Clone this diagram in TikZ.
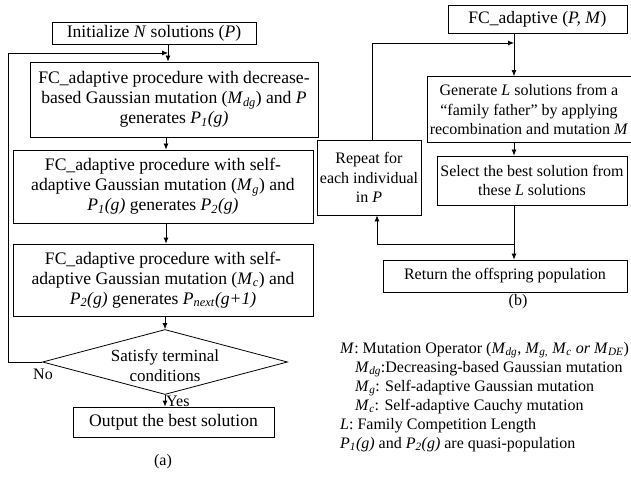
\documentclass[tikz,border=0pt]{standalone}
\usepackage{fontspec}
\setmainfont{Liberation Serif}
\usetikzlibrary{arrows.meta,shapes.geometric}
\newcommand\Msub[2]{\textit{#1}\textsubscript{\textit{#2}}}
\begin{document}
\begin{tikzpicture}[x=1pt,y=-1pt,
  every node/.style={font=\fontsize{17.6}{20}\selectfont},
  box/.style={draw,line width=0.8pt,inner sep=0pt,align=center},
  rbox/.style={box,font=\fontsize{16}{19.5}\selectfont},
  conn/.style={line width=0.8pt},
  arr/.style={line width=0.8pt,-{Latex[length=6pt,width=5pt]}}]
\useasboundingbox (0,0) rectangle (631,478);
% (a)
\node[box,minimum width=204,minimum height=22] (init) at (154,33) {Initialize \textit{N} solutions (\textit{P})};
\node[box,minimum width=288,minimum height=75] (b1) at (174,99.5) {FC\_adaptive procedure with decrease-\\based Gaussian mutation (\Msub{M}{dg}) and \textit{P}\\generates \Msub{P}{1}\textit{(g)}};
\node[box,minimum width=300,minimum height=73] (b2) at (163,186.5) {FC\_adaptive procedure with self-\\adaptive Gaussian mutation (\Msub{M}{g}) and\\\Msub{P}{1}\textit{(g)} generates \Msub{P}{2}\textit{(g)}};
\node[box,minimum width=300,minimum height=72] (b3) at (163,280) {FC\_adaptive procedure with self-\\adaptive Gaussian mutation (\Msub{M}{c}) and\\\Msub{P}{2}\textit{(g)} generates \Msub{P}{next}\textit{(g+1)}};
\node[diamond,draw,line width=0.8pt,inner sep=0pt,minimum width=245,minimum height=65] (d) at (165,362) {};
\node[align=center,font=\fontsize{17}{20}\selectfont] (dt) at (165,366) {Satisfy terminal\\conditions};
\node[box,minimum width=201,minimum height=30] (out) at (173.5,422) {Output the best solution};
\node[font=\fontsize{16}{19}\selectfont] (la) at (163,462) {(a)};
\node[font=\fontsize{16}{19}\selectfont] (no) at (43,374) {No};
\node[anchor=west,inner sep=1pt,font=\fontsize{16}{19}\selectfont] (yes) at (165,401) {Yes};
\coordinate (xa) at (168,0);
\coordinate (xb) at (166,0);
\coordinate (lp) at (8,53);
\draw[arr] (init.south -| xa) -- (b1.north -| xa);
\draw[arr] (b1.south -| xb) -- (b2.north -| xb);
\draw[arr] (b2.south -| xb) -- (b3.north -| xb);
\draw[arr] (b3.south -| d.north) -- (d.north);
\draw[arr] (d.south) -- (out.north -| d.south);
\draw[arr] (d.west) -- (d.west -| lp) -- (lp) -- (lp -| xa);
% (b)
\node[box,font=\fontsize{17.5}{20}\selectfont,minimum width=179,minimum height=28] (fc) at (537.5,19) {FC\_adaptive (\textit{P, M})};
\node[rbox,minimum width=204,minimum height=66] (gen) at (529,109.5) {Generate \textit{L} solutions from a\\``family father'' by applying\\recombination and mutation \textit{M}};
\node[rbox,minimum width=104,minimum height=75] (rep) at (369,177.5) {Repeat for\\each individual\\in \textit{P}};
\node[rbox,minimum width=190,minimum height=49] (sel) at (532,180.5) {Select the best solution from\\these \textit{L} solutions};
\node[rbox,minimum width=244,minimum height=32] (ret) at (505,276) {Return the offspring population};
\node[font=\fontsize{16}{19}\selectfont] (lb) at (518,302) {(b)};
\coordinate (xv) at (514,0);
\coordinate (j) at (514,244);
\coordinate (xu) at (377,0);
\coordinate (xt) at (372,43);
\draw[arr] (fc.south -| xv) -- (gen.north -| xv);
\draw[arr] (gen.south -| xv) -- (sel.north -| xv);
\draw[conn] (sel.south -| xv) -- (j);
\draw[arr] (j) -- (ret.north -| xv);
\draw[arr] (j) -- (j -| xu) -- (rep.south -| xu);
\draw[arr] (rep.north -| xt) -- (xt) -- (xt -| xv);
% legend
\node[anchor=north west,align=left,inner sep=0pt,font=\fontsize{16}{19}\selectfont] (leg) at (340,342) {%
\textit{M}: Mutation Operator (\Msub{M}{dg}, \Msub{M}{g,} \Msub{M}{c} \textit{or} \Msub{M}{DE})\\
\hspace*{15pt}\Msub{M}{dg}:Decreasing-based Gaussian mutation\\
\hspace*{15pt}\Msub{M}{g}: Self-adaptive Gaussian mutation\\
\hspace*{15pt}\Msub{M}{c}: Self-adaptive Cauchy mutation\\
\textit{L}: Family Competition Length\\
\Msub{P}{1}\textit{(g)} and \Msub{P}{2}\textit{(g)} are quasi-population};
\end{tikzpicture}
\end{document}
